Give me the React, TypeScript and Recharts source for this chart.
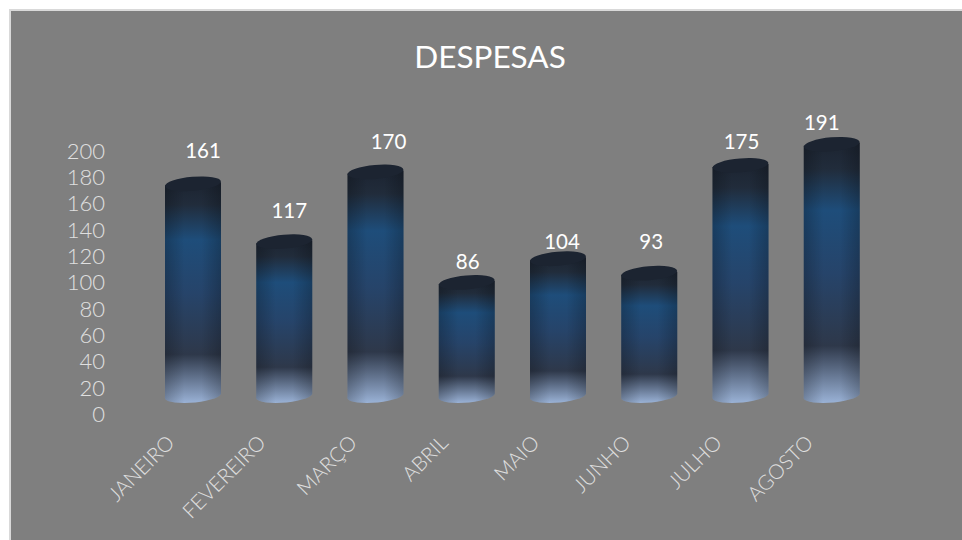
import { BarChart, Bar, XAxis, YAxis, LabelList } from 'recharts';

const months = ['JANEIRO', 'FEVEREIRO', 'MARÇO', 'ABRIL', 'MAIO', 'JUNHO', 'JULHO', 'AGOSTO'];
const despesas = [161, 117, 170, 86, 104, 93, 175, 191];
const yTicks = [0, 20, 40, 60, 80, 100, 120, 140, 160, 180, 200];
// the labels sit by hand in the original, not at a fixed distance from the bar
const labelLift = [34, 32, 31, 22, 18, 33, 25, 23];
const labelShift = [10, 5, 13, 1, 4, 2, 1, -10];

const data = months.map((month, i) => ({ month, despesas: despesas[i] }));

const FONT = 'Lato, "Open Sans", sans-serif';

function Cylinder(props: any) {
  const { x, y, width, height } = props;
  const cx = x + width / 2;
  const rx = width / 2;
  const ry = 7;
  const bottom = y + height;
  const body = `M${x},${y} L${x},${bottom} A${rx},${ry} -5 0 0 ${x + width},${bottom - 3} L${x + width},${y - 3} Z`;
  return (
    <g>
      <path d={body} fill="url(#cylBody)" />
      <path d={body} fill="url(#cylSides)" />
      <ellipse cx={cx} cy={y - 1.5} rx={rx} ry={ry} fill="#1c2431" transform={`rotate(-5 ${cx} ${y - 1.5})`} />
    </g>
  );
}

function MonthTick(props: any) {
  const { x, y, payload } = props;
  return (
    <text
      x={x - 17}
      y={y + 39}
      textAnchor="end"
      fontSize={20.5}
      fontWeight={300}
      fontFamily={FONT}
      fill="#e0e0e0"
      transform={`rotate(-45 ${x - 17} ${y + 39})`}
    >
      {payload.value}
    </text>
  );
}

function ValueLabel(props: any) {
  const { x, y, width, index, value } = props;
  return (
    <text
      x={x + width / 2 + labelShift[index]}
      y={y - labelLift[index] + 7}
      textAnchor="middle"
      fontSize={20.5}
      fontFamily={FONT}
      fill="#ffffff"
    >
      {value}
    </text>
  );
}

export default function App() {
  return (
    <div
      style={{
        position: 'absolute',
        left: 9,
        top: 9,
        width: 953,
        height: 531,
        background: '#7f7f7f',
        borderLeft: '2px solid #d9d9d9',
        borderTop: '2px solid #d9d9d9',
        boxSizing: 'border-box',
      }}
    >
      <div
        style={{
          position: 'absolute',
          left: 0,
          width: 958,
          top: 26,
          textAlign: 'center',
          fontFamily: FONT,
          fontSize: 31.5,
          color: '#ffffff',
        }}
      >
        DESPESAS
      </div>
      <BarChart
        width={951}
        height={529}
        data={data}
        margin={{ top: 123, right: 85, bottom: 113, left: 0 }}
      >
        <defs>
          <linearGradient id="cylBody" x1="0" y1="0" x2="0" y2="1">
            <stop offset="0" stopColor="#1c2431" />
            <stop offset="0.1" stopColor="#212c3b" />
            <stop offset="0.26" stopColor="#1e4d7a" />
            <stop offset="0.5" stopColor="#26446a" />
            <stop offset="0.78" stopColor="#2e384a" />
            <stop offset="1" stopColor="#9ab2d6" />
          </linearGradient>
          <linearGradient id="cylSides" x1="0" y1="0" x2="1" y2="0">
            <stop offset="0" stopColor="#000" stopOpacity="0.22" />
            <stop offset="0.35" stopColor="#000" stopOpacity="0" />
            <stop offset="0.65" stopColor="#000" stopOpacity="0" />
            <stop offset="1" stopColor="#000" stopOpacity="0.22" />
          </linearGradient>
        </defs>
        <XAxis dataKey="month" axisLine={false} tickLine={false} interval={0} tick={<MonthTick />} />
        <YAxis
          domain={[0, 200]}
          ticks={yTicks}
          interval={0}
          width={136}
          axisLine={false}
          tickLine={false}
          tick={{ fill: '#e0e0e0', fontSize: 22, fontWeight: 300, fontFamily: FONT, dy: 17, dx: -34 }}
        />
        <Bar dataKey="despesas" barSize={56} shape={<Cylinder />} isAnimationActive={false}>
          <LabelList dataKey="despesas" content={<ValueLabel />} />
        </Bar>
      </BarChart>
    </div>
  );
}
